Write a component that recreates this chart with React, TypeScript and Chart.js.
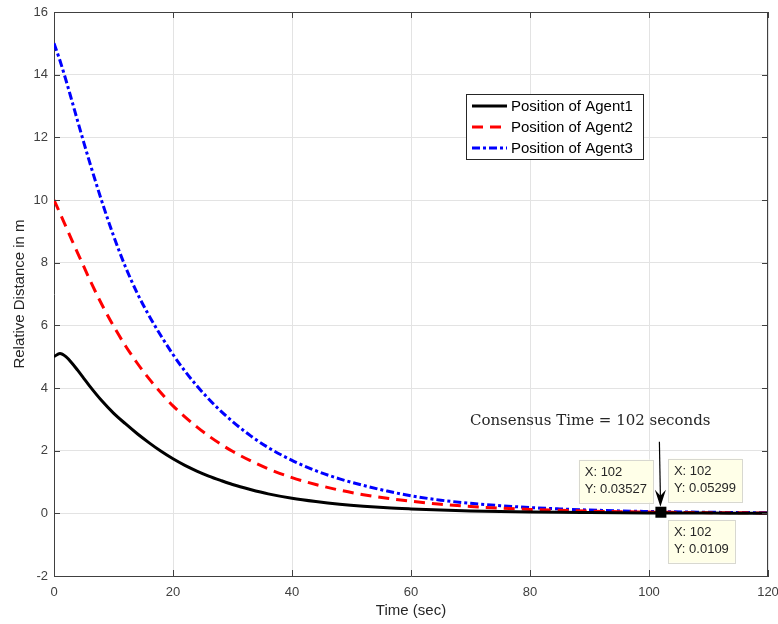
import React, { useEffect, useRef } from "react";
import { Chart, registerables } from "chart.js";

Chart.register(...registerables);

// ---- data ----
const timeSec = [0, 1, 2, 3, 4, 5, 6, 8, 10, 12, 14, 16, 18, 20, 22, 24, 26, 28, 30, 33, 36, 40, 44, 48, 52, 56, 60, 65, 70, 75, 80, 85, 90, 95, 102, 110, 120];
const agent1 = [5.0, 5.1, 5.0, 4.8, 4.56, 4.31, 4.06, 3.6, 3.2, 2.86, 2.54, 2.25, 1.98, 1.74, 1.53, 1.35, 1.19, 1.05, 0.92, 0.76, 0.62, 0.48, 0.375, 0.29, 0.225, 0.175, 0.14, 0.104, 0.077, 0.057, 0.042, 0.031, 0.023, 0.016, 0.0109, 0.0068, 0.0037];
const agent2 = [10.0, 9.58, 9.15, 8.72, 8.3, 7.88, 7.46, 6.68, 5.98, 5.35, 4.79, 4.29, 3.84, 3.43, 3.08, 2.76, 2.47, 2.21, 1.98, 1.68, 1.42, 1.14, 0.92, 0.74, 0.595, 0.48, 0.386, 0.29, 0.22, 0.165, 0.125, 0.095, 0.072, 0.054, 0.03527, 0.022, 0.0125];
const agent3 = [15.0, 14.45, 13.83, 13.17, 12.5, 11.84, 11.2, 9.98, 8.86, 7.87, 7.02, 6.3, 5.66, 5.07, 4.54, 4.07, 3.65, 3.27, 2.93, 2.48, 2.1, 1.69, 1.36, 1.1, 0.89, 0.71, 0.56, 0.42, 0.32, 0.245, 0.185, 0.14, 0.105, 0.078, 0.05299, 0.034, 0.019];
const seriesLabels = ["Position of Agent1", "Position of Agent2", "Position of Agent3"];
const xTicks = [0, 20, 40, 60, 80, 100, 120];
const yTicks = [-2, 0, 2, 4, 6, 8, 10, 12, 14, 16];
const consensusTime = 102;
const consensusLabel = "Consensus Time = 102 seconds";
const xTitle = "Time (sec)";
const yTitle = "Relative Distance in m";

const AXIS_COLOR = "#404040";
const SANS = "Arial, 'Liberation Sans', sans-serif";

const toPoints = (ys: number[]) => timeSec.map((t, i) => ({ x: t, y: ys[i] }));

const overlayPlugin = {
  id: "matlabOverlay",
  afterDatasetsDraw(chart: any) {
    const { ctx, chartArea: ca, scales } = chart;
    const xs = scales.x;
    const ys = scales.y;
    ctx.save();
    // box (top, right)
    ctx.strokeStyle = AXIS_COLOR;
    ctx.lineWidth = 1;
    ctx.beginPath();
    ctx.moveTo(ca.left, ca.top + 0.5);
    ctx.lineTo(ca.right, ca.top + 0.5);
    ctx.moveTo(ca.right - 0.5, ca.top);
    ctx.lineTo(ca.right - 0.5, ca.bottom);
    ctx.stroke();
    // inward tick marks
    const tl = 6;
    ctx.beginPath();
    xTicks.forEach((v) => {
      const px = Math.round(xs.getPixelForValue(v)) + 0.5;
      ctx.moveTo(px, ca.bottom);
      ctx.lineTo(px, ca.bottom - tl);
      ctx.moveTo(px, ca.top);
      ctx.lineTo(px, ca.top + tl);
    });
    yTicks.forEach((v) => {
      const py = Math.round(ys.getPixelForValue(v)) + 0.5;
      ctx.moveTo(ca.left, py);
      ctx.lineTo(ca.left + tl, py);
      ctx.moveTo(ca.right, py);
      ctx.lineTo(ca.right - tl, py);
    });
    ctx.stroke();

    // legend
    const lx = ca.left + 412;
    const ly = ca.top + 82;
    const lw = 177;
    const lh = 65;
    ctx.fillStyle = "#ffffff";
    ctx.fillRect(lx, ly, lw, lh);
    ctx.strokeStyle = "#262626";
    ctx.strokeRect(lx + 0.5, ly + 0.5, lw, lh);
    ctx.font = "15px " + SANS;
    ctx.textBaseline = "middle";
    ctx.textAlign = "left";
    chart.data.datasets.forEach((ds: any, i: number) => {
      const rowY = ly + 12 + i * 21;
      ctx.save();
      ctx.strokeStyle = ds.borderColor;
      ctx.lineWidth = 3;
      ctx.setLineDash(ds.borderDash || []);
      ctx.beginPath();
      ctx.moveTo(lx + 6, rowY);
      ctx.lineTo(lx + 41, rowY);
      ctx.stroke();
      ctx.restore();
      ctx.fillStyle = "#000000";
      ctx.fillText(ds.label, lx + 45, rowY + 1);
    });

    // consensus annotation
    const mx = xs.getPixelForValue(consensusTime);
    const idx = timeSec.indexOf(consensusTime);
    const my = ys.getPixelForValue(agent3[idx]);
    ctx.fillStyle = "#262626";
    ctx.font = "15px 'DejaVu Serif', serif";
    ctx.textAlign = "left";
    ctx.fillText(consensusLabel, mx - 191, my - 91);
    // arrow
    ctx.strokeStyle = "#000000";
    ctx.lineWidth = 1.2;
    ctx.beginPath();
    ctx.moveTo(mx - 1.5, my - 70);
    ctx.lineTo(mx - 0.5, my - 14);
    ctx.stroke();
    ctx.fillStyle = "#000000";
    ctx.beginPath();
    ctx.moveTo(mx - 0.5, my - 5);
    ctx.lineTo(mx - 6, my - 22);
    ctx.lineTo(mx - 0.5, my - 16);
    ctx.lineTo(mx + 5, my - 22);
    ctx.closePath();
    ctx.fill();
    // marker square
    ctx.fillStyle = "#000000";
    ctx.fillRect(mx - 5.5, ys.getPixelForValue(agent2[idx]) - 5.5, 11, 11);

    // data tips
    ctx.font = "13px " + SANS;
    const tip = (x: number, y: number, val: number, alignRight: boolean) => {
      const l1 = "X: " + consensusTime;
      const l2 = "Y: " + String(val);
      const w = Math.max(ctx.measureText(l1).width, ctx.measureText(l2).width) + 12;
      const h = 43;
      const bx = alignRight ? x - w : x;
      ctx.fillStyle = "#ffffe8";
      ctx.fillRect(bx, y, w, h);
      ctx.strokeStyle = "#d8d8d0";
      ctx.lineWidth = 1;
      ctx.strokeRect(Math.round(bx) + 0.5, Math.round(y) + 0.5, Math.round(w), h);
      ctx.fillStyle = "#262626";
      ctx.textAlign = "left";
      ctx.textBaseline = "middle";
      ctx.fillText(l1, bx + 6, y + 13);
      ctx.fillText(l2, bx + 6, y + 30);
    };
    tip(mx - 8, my - 52, agent2[idx], true);
    tip(mx + 7, my - 53, agent3[idx], false);
    tip(mx + 7, my + 8, agent1[idx], false);
    ctx.restore();
  },
};

export default function App() {
  const ref = useRef<HTMLCanvasElement | null>(null);
  useEffect(() => {
    document.body.style.margin = "0";
    const canvas = ref.current!;
    const chart = new Chart(canvas, {
      type: "line",
      data: {
        datasets: [
          {
            label: seriesLabels[0],
            data: toPoints(agent1),
            borderColor: "#000000",
            borderWidth: 3,
            pointRadius: 0,
            cubicInterpolationMode: "monotone",
          },
          {
            label: seriesLabels[1],
            data: toPoints(agent2),
            borderColor: "#ff0000",
            borderWidth: 3,
            borderDash: [11, 7],
            pointRadius: 0,
            cubicInterpolationMode: "monotone",
          },
          {
            label: seriesLabels[2],
            data: toPoints(agent3),
            borderColor: "#0000ff",
            borderWidth: 3,
            borderDash: [8, 3, 3, 3],
            pointRadius: 0,
            cubicInterpolationMode: "monotone",
          },
        ],
      },
      options: {
        animation: false,
        responsive: false,
        devicePixelRatio: 1,
        layout: { padding: { top: 12, right: 10, left: 0, bottom: 0 } },
        plugins: { legend: { display: false }, tooltip: { enabled: false } },
        scales: {
          x: {
            type: "linear",
            min: 0,
            max: 120,
            afterFit: (s: any) => {
              s.height = 48;
              s.paddingLeft = 0;
              s.paddingRight = 0;
            },
            afterBuildTicks: (s: any) => {
              s.ticks = xTicks.map((v) => ({ value: v }));
            },
            ticks: { color: AXIS_COLOR, font: { size: 13, family: SANS }, padding: 9, maxRotation: 0 },
            grid: { color: "#e3e3e3", drawTicks: false },
            border: { display: true, color: AXIS_COLOR, width: 1 },
            title: { display: true, text: xTitle, color: "#262626", font: { size: 15, family: SANS }, padding: { top: 0, bottom: 4 } },
          },
          y: {
            type: "linear",
            min: -2,
            max: 16,
            afterFit: (s: any) => {
              s.width = 54;
              s.paddingTop = 0;
              s.paddingBottom = 0;
            },
            afterBuildTicks: (s: any) => {
              s.ticks = yTicks.map((v) => ({ value: v }));
            },
            ticks: { color: AXIS_COLOR, font: { size: 13, family: SANS }, padding: 6 },
            grid: { color: "#e3e3e3", drawTicks: false },
            border: { display: true, color: AXIS_COLOR, width: 1 },
            title: { display: true, text: yTitle, color: "#262626", font: { size: 15, family: SANS }, padding: { top: 11, bottom: 0 } },
          },
        },
      } as any,
      plugins: [overlayPlugin],
    });
    return () => chart.destroy();
  }, []);
  return (
    <div style={{ position: "absolute", left: 0, top: 0, width: 778, height: 624, background: "#ffffff" }}>
      <canvas ref={ref} width={778} height={624} />
    </div>
  );
}
